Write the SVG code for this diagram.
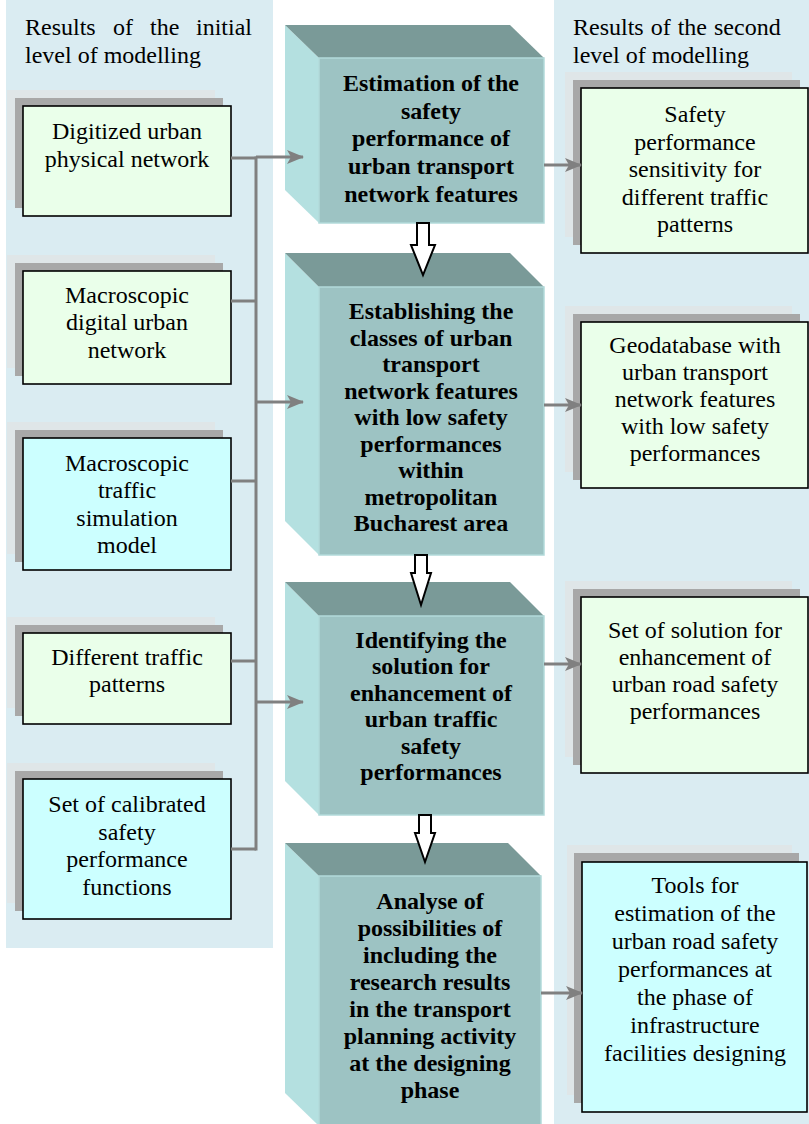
<svg xmlns="http://www.w3.org/2000/svg" width="809" height="1124" viewBox="0 0 809 1124">
<defs>
<style>
.panel{fill:#daecf2}
.halo{fill:#dfe6e8}
.shd{fill:#a8a8a8}
.gbox{fill:#eaffea;stroke:#000;stroke-width:1.6}
.cbox{fill:#ccffff;stroke:#000;stroke-width:1.6}
.t{font-family:"Liberation Serif","Times New Roman",serif;font-size:24px;fill:#000;text-anchor:middle}
.h{font-family:"Liberation Serif","Times New Roman",serif;font-size:24px;fill:#000}
.b{font-family:"Liberation Serif","Times New Roman",serif;font-size:24px;font-weight:bold;fill:#000;text-anchor:middle}
.top{fill:#7a9a98}
.side{fill:#b4e0e0}
.front{fill:#9dc3c3;stroke:#b2dada;stroke-width:1.5}
.con{fill:none;stroke:#808080;stroke-width:3}
.blk{fill:#fff;stroke:#000;stroke-width:2;stroke-linejoin:miter}
</style>
<marker id="ah" markerUnits="userSpaceOnUse" viewBox="0 0 17 14" markerWidth="17" markerHeight="14" refX="16" refY="7" orient="auto">
<path d="M0,0 L17,7 L0,14 L4,7 z" fill="#808080"/>
</marker>
</defs>

<rect class="panel" x="6" y="0" width="267" height="948"/>
<rect class="panel" x="554" y="0" width="255" height="1124"/>

<g id="header-left">
<text class="h" y="35"><tspan x="25">Results</tspan><tspan x="113">of</tspan><tspan x="150">the</tspan><tspan x="196">initial</tspan></text>
<text class="h" x="25" y="63">level of modelling</text>
</g>
<g id="header-right">
<text class="h" x="573" y="35" word-spacing="1">Results of the second</text>
<text class="h" x="573" y="63">level of modelling</text>
</g>

<g id="L1">
<rect class="halo" x="7" y="90" width="208" height="110"/>
<rect class="shd" x="15" y="98" width="208" height="110"/>
<rect class="gbox" x="23" y="106" width="208" height="110"/>
<text class="t" x="127" y="139">Digitized urban</text>
<text class="t" x="127" y="167">physical network</text>
</g>
<g id="L2">
<rect class="halo" x="7" y="255" width="208" height="113"/>
<rect class="shd" x="15" y="263" width="208" height="113"/>
<rect class="gbox" x="23" y="271" width="208" height="113"/>
<text class="t" x="127" y="303">Macroscopic</text>
<text class="t" x="127" y="330">digital urban</text>
<text class="t" x="127" y="358">network</text>
</g>
<g id="L3">
<rect class="halo" x="7" y="422" width="208" height="132"/>
<rect class="shd" x="15" y="430" width="208" height="132"/>
<rect class="cbox" x="23" y="438" width="208" height="132"/>
<text class="t" x="127" y="471">Macroscopic</text>
<text class="t" x="127" y="498">traffic</text>
<text class="t" x="127" y="526">simulation</text>
<text class="t" x="127" y="553">model</text>
</g>
<g id="L4">
<rect class="halo" x="7" y="617" width="208" height="91"/>
<rect class="shd" x="15" y="625" width="208" height="91"/>
<rect class="gbox" x="23" y="633" width="208" height="91"/>
<text class="t" x="127" y="665">Different traffic</text>
<text class="t" x="127" y="692">patterns</text>
</g>
<g id="L5">
<rect class="halo" x="7" y="763" width="208" height="140"/>
<rect class="shd" x="15" y="771" width="208" height="140"/>
<rect class="cbox" x="23" y="779" width="208" height="140"/>
<text class="t" x="127" y="812">Set of calibrated</text>
<text class="t" x="127" y="840">safety</text>
<text class="t" x="127" y="867">performance</text>
<text class="t" x="127" y="895">functions</text>
</g>

<g id="B1">
<polygon class="side" points="285,25 319,58 319,223 285,190"/>
<polygon class="top" points="285,25 510,25 544,58 319,58"/>
<rect class="front" x="319" y="58" width="225" height="165"/>
<text class="b" x="431" y="91">Estimation of the</text>
<text class="b" x="431" y="119">safety</text>
<text class="b" x="431" y="146">performance of</text>
<text class="b" x="431" y="174">urban transport</text>
<text class="b" x="431" y="202">network features</text>
</g>
<g id="B2">
<polygon class="side" points="285,253 319,287 319,555 285,521"/>
<polygon class="top" points="285,253 510,253 544,287 319,287"/>
<rect class="front" x="319" y="287" width="225" height="268"/>
<text class="b" x="431" y="319">Establishing the</text>
<text class="b" x="431" y="346">classes of urban</text>
<text class="b" x="431" y="372">transport</text>
<text class="b" x="431" y="399">network features</text>
<text class="b" x="431" y="425">with low safety</text>
<text class="b" x="431" y="452">performances</text>
<text class="b" x="431" y="478">within</text>
<text class="b" x="431" y="505">metropolitan</text>
<text class="b" x="431" y="531">Bucharest area</text>
</g>
<g id="B3">
<polygon class="side" points="285,582 319,616 319,815 285,781"/>
<polygon class="top" points="285,582 510,582 544,616 319,616"/>
<rect class="front" x="319" y="616" width="225" height="199"/>
<text class="b" x="431" y="648">Identifying the</text>
<text class="b" x="431" y="674">solution for</text>
<text class="b" x="431" y="701">enhancement of</text>
<text class="b" x="431" y="727">urban traffic</text>
<text class="b" x="431" y="754">safety</text>
<text class="b" x="431" y="780">performances</text>
</g>
<g id="B4">
<polygon class="side" points="285,843 319,876 319,1126 285,1093"/>
<polygon class="top" points="285,843 508,843 541,876 319,876"/>
<rect class="front" x="319" y="876" width="222" height="252"/>
<text class="b" x="430" y="909">Analyse of</text>
<text class="b" x="430" y="936">possibilities of</text>
<text class="b" x="430" y="963">including the</text>
<text class="b" x="430" y="990">research results</text>
<text class="b" x="430" y="1017">in the transport</text>
<text class="b" x="430" y="1044">planning activity</text>
<text class="b" x="430" y="1071">at the designing</text>
<text class="b" x="430" y="1098">phase</text>
</g>

<g id="R1">
<rect class="halo" x="565" y="72" width="227" height="165"/>
<rect class="shd" x="573" y="80" width="227" height="165"/>
<rect class="gbox" x="581" y="88" width="227" height="165"/>
<text class="t" x="695" y="122">Safety</text>
<text class="t" x="695" y="150">performance</text>
<text class="t" x="695" y="177">sensitivity for</text>
<text class="t" x="695" y="205">different traffic</text>
<text class="t" x="695" y="232">patterns</text>
</g>
<g id="R2">
<rect class="halo" x="565" y="306" width="227" height="166"/>
<rect class="shd" x="573" y="314" width="227" height="166"/>
<rect class="gbox" x="581" y="322" width="227" height="166"/>
<text class="t" x="695" y="353">Geodatabase with</text>
<text class="t" x="695" y="380">urban transport</text>
<text class="t" x="695" y="407">network features</text>
<text class="t" x="695" y="434">with low safety</text>
<text class="t" x="695" y="461">performances</text>
</g>
<g id="R3">
<rect class="halo" x="565" y="581" width="227" height="176"/>
<rect class="shd" x="573" y="589" width="227" height="176"/>
<rect class="gbox" x="581" y="597" width="227" height="176"/>
<text class="t" x="695" y="638">Set of solution for</text>
<text class="t" x="695" y="665">enhancement of</text>
<text class="t" x="695" y="692">urban road safety</text>
<text class="t" x="695" y="719">performances</text>
</g>
<g id="R4">
<rect class="halo" x="567" y="845" width="225" height="250"/>
<rect class="shd" x="574" y="853" width="225" height="250"/>
<rect class="cbox" x="582" y="862" width="225" height="250"/>
<text class="t" x="695" y="893">Tools for</text>
<text class="t" x="695" y="921">estimation of the</text>
<text class="t" x="695" y="949">urban road safety</text>
<text class="t" x="695" y="977">performances at</text>
<text class="t" x="695" y="1005">the phase of</text>
<text class="t" x="695" y="1033">infrastructure</text>
<text class="t" x="695" y="1061">facilities designing</text>
</g>

<g id="connectors">
<polyline class="con" points="231,158 256,158"/>
<polyline class="con" points="231,301 256,301"/>
<polyline class="con" points="231,481 256,481"/>
<polyline class="con" points="231,661 256,661"/>
<polyline class="con" points="231,849 256,849"/>
<line class="con" x1="256" y1="156.5" x2="256" y2="850.5"/>
<line class="con" x1="256" y1="157" x2="303" y2="157" marker-end="url(#ah)"/>
<line class="con" x1="256" y1="402" x2="303" y2="402" marker-end="url(#ah)"/>
<line class="con" x1="256" y1="702" x2="303" y2="702" marker-end="url(#ah)"/>
<line class="con" x1="544" y1="165" x2="581" y2="165" marker-end="url(#ah)"/>
<line class="con" x1="544" y1="405" x2="581" y2="405" marker-end="url(#ah)"/>
<line class="con" x1="544" y1="664" x2="581" y2="664" marker-end="url(#ah)"/>
<line class="con" x1="541" y1="993" x2="582" y2="993" marker-end="url(#ah)"/>
<polygon class="blk" points="417,223 429,223 429,245 435,245 423,275 411,245 417,245"/>
<polygon class="blk" points="415,555 427,555 427,573 431,573 421,605 411,573 415,573"/>
<polygon class="blk" points="419,815 431,815 431,833 435,833 425,862 415,833 419,833"/>
</g>
</svg>
